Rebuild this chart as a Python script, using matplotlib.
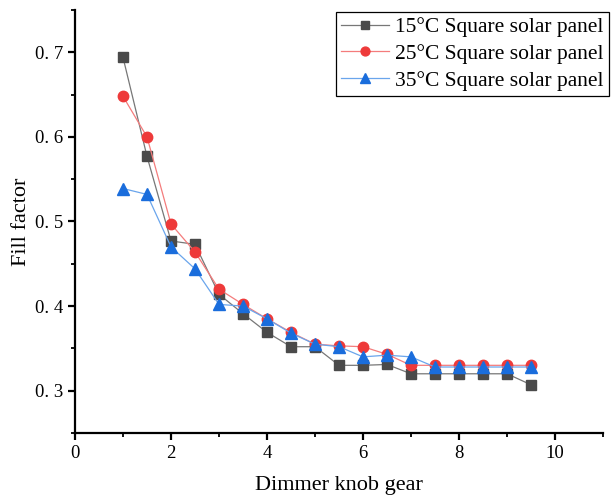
import matplotlib
matplotlib.use("Agg")
import matplotlib.pyplot as plt
from matplotlib.ticker import MultipleLocator, FuncFormatter

plt.rcParams["font.family"] = ["Liberation Serif", "DejaVu Serif"]

gear = [1, 1.5, 2, 2.5, 3, 3.5, 4, 4.5, 5, 5.5, 6, 6.5, 7, 7.5, 8, 8.5, 9, 9.5]
ff_15 = [0.694, 0.577, 0.477, 0.473, 0.414, 0.391, 0.369, 0.352, 0.352, 0.330,
         0.330, 0.331, 0.320, 0.320, 0.320, 0.320, 0.320, 0.307]
ff_25 = [0.648, 0.600, 0.497, 0.464, 0.420, 0.402, 0.385, 0.369, 0.355, 0.353,
         0.352, 0.343, 0.330, 0.330, 0.330, 0.330, 0.330, 0.330]
ff_35 = [0.539, 0.532, 0.470, 0.444, 0.402, 0.400, 0.385, 0.368, 0.355, 0.352,
         0.340, 0.342, 0.340, 0.328, 0.328, 0.328, 0.328, 0.328]

fig = plt.figure(figsize=(6.13, 4.95), dpi=100)
ax = fig.add_axes([75 / 613, 1 - 433 / 495, 528 / 613, 423 / 495])

ax.plot(gear, ff_15, color="#777777", lw=0.9, marker="s", ms=6.5,
        mfc="#4a4a4a", mec="#4a4a4a", label="15°C Square solar panel")
ax.plot(gear, ff_25, color="#f47c7c", lw=0.9, marker="o", ms=7.5,
        mfc="#ee3a3a", mec="#ee3a3a", label="25°C Square solar panel")
ax.plot(gear, ff_35, color="#6aa5ec", lw=0.9, marker="^", ms=8,
        mfc="#1a6ddc", mec="#1a6ddc", label="35°C Square solar panel")

ax.set_xlim(0, 11)
ax.set_ylim(0.25, 0.75)
ax.xaxis.set_major_locator(MultipleLocator(2))
ax.xaxis.set_minor_locator(MultipleLocator(1))
ax.yaxis.set_major_locator(MultipleLocator(0.1))
ax.yaxis.set_minor_locator(MultipleLocator(0.05))
ax.yaxis.set_major_formatter(FuncFormatter(lambda v, p: f"{v:.1f}".replace(".", ". ")))

for side in ["top", "right"]:
    ax.spines[side].set_visible(False)
for side in ["left", "bottom"]:
    ax.spines[side].set_linewidth(1.6)
ax.tick_params(which="major", direction="out", length=5, width=1.6, labelsize=13.5)
ax.tick_params(which="minor", direction="out", length=3, width=1.3)

ax.set_xlabel("Dimmer knob gear", fontsize=16, labelpad=10)
ax.set_ylabel("Fill factor", fontsize=16, labelpad=3)

leg = ax.legend(loc="upper left", bbox_to_anchor=(336 / 613, 1 - 12 / 495),
                bbox_transform=fig.transFigure, fontsize=15.5, frameon=True,
                fancybox=False, framealpha=1, edgecolor="black",
                handlelength=2.2, labelspacing=0.3, borderpad=0.25,
                handletextpad=0.3, borderaxespad=0, markerscale=0.85)
leg.get_frame().set_linewidth(0.9)

fig.savefig("out.png", dpi=100)
